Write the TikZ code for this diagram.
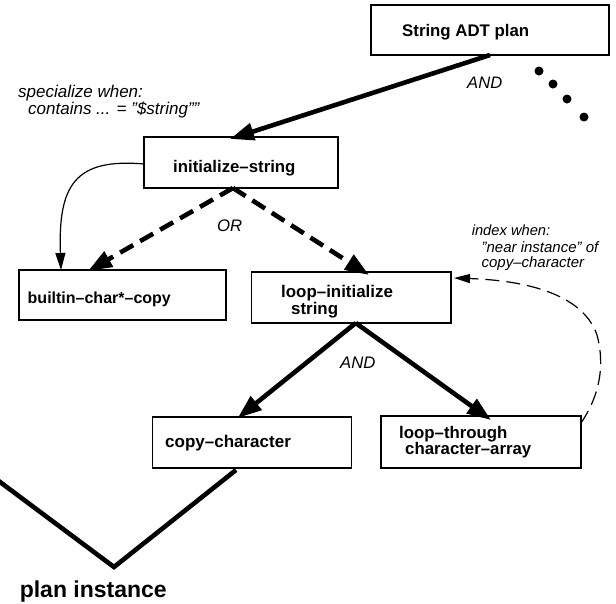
\documentclass[tikz,border=0pt]{standalone}
\usepackage{fontspec}
\setmainfont{Liberation Sans}
\usetikzlibrary{arrows.meta,calc}

\tikzset{
  box/.style={draw, line width=1.6pt, rectangle, inner sep=0pt, outer sep=0pt},
  boxtext/.style={anchor=base west, inner sep=0pt, font=\bfseries\fontsize{#1}{#1}\selectfont},
  note/.style={anchor=base west, inner sep=0pt, font=\itshape\fontsize{#1}{#1}\selectfont},
  heavy/.style={line width=4.6pt, -{Triangle[length=24pt,width=17pt]}},
  heavydash/.style={heavy, dash pattern=on 15pt off 8pt},
  thinarrow/.style={line width=1.2pt, -{Triangle[length=17pt,width=10pt]}},
  thindash/.style={line width=1.2pt, dash pattern=on 14pt off 7pt, -{Triangle[length=16pt,width=9pt]}},
}

\begin{document}
\begin{tikzpicture}[x=1pt, y=-1pt]
\useasboundingbox (0,0) rectangle (616,603);

% boxes
\node[box, minimum width=238pt, minimum height=50pt] (sadt) at (490,30) {};
\node[box, minimum width=194pt, minimum height=51pt] (ini)  at (241,162.5) {};
\node[box, minimum width=207pt, minimum height=50pt] (bcc)  at (122.5,295) {};
\node[box, minimum width=199.5pt, minimum height=51pt] (lini) at (351.25,297.5) {};
\node[box, minimum width=199pt, minimum height=51pt] (copy) at (252,442.5) {};
\node[box, minimum width=200pt, minimum height=52pt] (ltca) at (481,442) {};

% box labels
\node[boxtext=16.8] (tsadt) at (402,36) {String ADT plan};
\node[boxtext=16.8] (tini)  at (173,172) {initialize--string};
\node[boxtext=16] (tbcc)  at (27.5,303) {builtin--char*--copy};
\node[boxtext=16.9] (tlini1) at (281,297) {loop--initialize};
\node[boxtext=16.9] (tlini2) at (291,314) {string};
\node[boxtext=17] (tcopy) at (165,447) {copy--character};
\node[boxtext=16.8] (tltca1) at (399,438) {loop--through};
\node[boxtext=16.8] (tltca2) at (405,454) {character--array};

% annotations
\node[note=17] (spec1) at (18,97) {specialize when:};
\node[note=17] (spec2) at (28,114) {contains ... = "\$string""};
\node[note=16.6] (and1) at (467,88) {AND};
\node[note=16.7] (or1) at (217,231) {OR};
\node[note=16.7] (and2) at (340,368) {AND};
\node[note=14.7] (idx1) at (471.6,235) {index when:};
\node[note=15] (idx2) at (481.4,252) {"near instance" of};
\node[note=15] (idx3) at (481.4,267) {copy--character};

% plan instance caption
\node[anchor=base west, inner sep=0pt, font=\bfseries\fontsize{23}{24}\selectfont] (pinst) at (19.6,597) {plan instance};

% connectors
\draw[heavy] (sadt.south) -- ([xshift=-11pt,yshift=-2pt]ini.north);
\draw[heavydash] ([xshift=-8pt]ini.south) -- ([xshift=-34.5pt,yshift=-1pt]bcc.north);
\draw[heavydash] ([xshift=-8pt]ini.south) -- ([xshift=17.75pt,yshift=-3pt]lini.north);
\draw[heavy] ([xshift=4.5pt]lini.south) -- ([xshift=-14.3pt,yshift=-1pt]copy.north);
\draw[heavy] ([xshift=4.5pt]lini.south) -- ([xshift=10pt,yshift=-4pt]ltca.north);
\draw[thinarrow] ([yshift=-1.5pt]ini.west) .. controls (75,158) and (58,185) .. ([xshift=-61.5pt]bcc.north);
\draw[thindash] ([yshift=19pt]ltca.east) .. controls (600,395) and (605,365) .. (597,335)
  .. controls (585,300) and (540,281) .. ([xshift=3pt,yshift=19.5pt]lini.east);

% plan instance outline
\coordinate (vbot) at (114,567);
\coordinate (vleft) at (-6,477.5);
\draw[line width=4.6pt] ([xshift=-16pt,yshift=-2pt]copy.south) -- (vbot) -- (vleft);

% continuation dots
\foreach \p in {(539,71),(553,84),(567,99),(584,117)}
  \fill \p circle (4.5pt);
\end{tikzpicture}
\end{document}
